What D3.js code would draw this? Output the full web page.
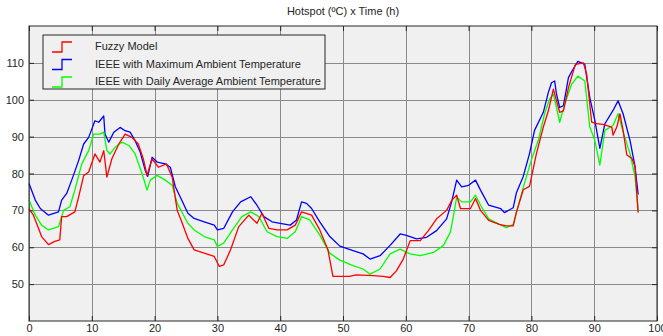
<!DOCTYPE html>
<html lang="en">
<head>
    <meta charset="UTF-8">
    <script src="https://d3js.org/d3.v7.min.js"></script>
    <title>Hotspot</title>
    <style>
        body { margin: 0; background: #fff; }
        text { font-family: "Liberation Sans", Arial, sans-serif; fill: #262626; }
    </style>
</head>
<body>
    <div id="canvas"></div>
    <script>
        // [time (h), hotspot (ºC)]
        const fuzzy = [[0,70.5],[0.7,68.7],[1.5,65.2],[2,62.9],[3.1,60.7],[4.1,61.6],[4.9,62],[5.2,68.3],[6,68.3],[7.3,69.6],[7.9,73.6],[8.7,79.4],[9.5,80.4],[10.5,85.3],[11.3,83.1],[11.9,86.2],[12.4,79],[13.2,84],[14.3,88],[15.3,90.7],[16.4,89.8],[17.4,88],[18.2,84],[18.8,79.5],[19.6,84],[20.6,81.7],[21.9,82.6],[22.8,79],[23.6,70],[24.3,67],[25.3,62.4],[26.3,59.3],[27.9,58.4],[29.5,57.5],[30.3,54.8],[31,55.2],[32.1,59.3],[33.4,65.6],[35,68.7],[36.3,66.5],[37.1,69.2],[38.2,65.1],[39.5,64.7],[41.1,64.7],[42.4,66],[43.4,69.6],[45,68.7],[46.3,64.7],[47.6,59.3],[48.4,52.1],[51,52.1],[52.1,52.5],[54.8,52.3],[56.4,52.1],[57.5,51.8],[58.5,53.6],[59.6,56.8],[60.7,61.8],[62.3,61.8],[63.6,64.5],[64.9,67.7],[66.5,70],[67.3,72.7],[68.1,74.1],[68.7,70.5],[70.3,70.5],[71.1,73.2],[71.9,70],[73.2,67.3],[74.9,66.2],[76,65.8],[77.1,65.8],[77.6,69.4],[78.7,75.6],[79.7,76.5],[80.8,85.4],[81.9,92.6],[82.7,97],[83.5,102.9],[84,99.7],[84.5,96.6],[85.1,97],[85.9,103.3],[87,109.6],[88.3,110],[88.8,106.9],[89.6,93.9],[90.4,93.5],[91.4,93.3],[92.8,92.6],[93,90.4],[93.6,92.6],[94.1,96.2],[94.6,91.7],[95.2,85],[96,84.1],[96.5,81.9],[97,69.4]]
        const ieeeMax = [[0,77.3],[1,72.8],[1.8,70.5],[3.1,68.7],[4.7,69.6],[5.2,72.8],[6,74.6],[6.8,78.2],[7.9,83.5],[8.7,88],[9.5,89.8],[10.5,94.3],[11.1,93.9],[11.9,95.6],[12.1,90.7],[12.7,88.5],[13.5,91.2],[14.5,92.5],[15.3,91.6],[16.1,91.2],[16.9,88.9],[17.7,85.8],[18.5,80.9],[18.9,79.2],[19.6,84.4],[20.4,83.1],[21.7,82.6],[22.5,81.7],[23.3,76.4],[24.2,73.2],[25.3,69.2],[26.3,67.8],[27.9,66.9],[29.5,66],[30,64.7],[31,65.1],[32.4,69.6],[33.7,72.3],[35.3,73.7],[36.3,71.4],[37.4,68.3],[38.7,66.9],[40,66.5],[41.6,66],[42.6,67.4],[43.4,72.3],[44.2,71.9],[45,70.5],[46.3,66.9],[47.9,62.9],[49.5,60.3],[51.6,59.1],[53.2,58.2],[54.3,56.8],[55.9,57.7],[57.5,60.5],[59.1,63.6],[60.1,63.2],[61.7,62.3],[63.3,62.7],[64.9,64.5],[66.5,67.7],[67.3,72.3],[68.1,78.2],[68.9,76.4],[70,76.8],[71.1,78.2],[71.9,75.5],[73.2,71.4],[75.1,70.5],[75.7,69.4],[77.1,70.7],[77.6,74.7],[78.7,79.2],[79.7,85.4],[80.5,91.7],[81.9,96.6],[82.7,102],[83.2,104.6],[83.7,105.1],[84,101.5],[84.5,97.9],[85.1,98.4],[85.9,106],[86.6,108.2],[87.4,110.4],[88.5,109.6],[89.3,100.6],[90.1,94.4],[90.9,86.8],[91.7,93.5],[93,97.1],[93.8,99.7],[94.6,96.2],[95.7,89],[96.5,81.9],[97,74.3]]
        const ieeeAvg = [[0,72.8],[1,68.7],[2,66],[3.1,64.7],[4.7,65.6],[5.5,70],[6.5,71],[7.3,75.5],[8.4,82.6],[9.5,86.2],[10.3,90.7],[11.3,90.7],[11.9,91.2],[12.4,86.2],[12.9,85.3],[13.7,87.1],[14.8,88.5],[15.9,87.6],[16.9,85.3],[18,80],[18.8,75.5],[19.3,78.2],[20.4,79.5],[21.7,78.2],[22.8,76.8],[23.6,71.9],[24.3,69.7],[25.3,66.5],[26.3,64.7],[27.9,62.9],[29.5,62],[30,60.2],[31,61.1],[32.4,64.7],[33.9,68.3],[35.3,69.6],[36.6,68.3],[37.9,64.2],[39.5,62.9],[41.1,62.4],[42.4,64.2],[43.4,68.3],[44.7,67.4],[46.3,63.3],[47.9,58.4],[49.5,56.5],[51.6,55],[53.2,54.1],[54.3,52.7],[55.9,54.1],[57.5,58.2],[59.1,59.5],[60.7,58.2],[62.3,57.7],[64.4,58.6],[66,60.5],[67.1,64.1],[67.6,68.6],[68.1,73.6],[68.9,72.3],[70.3,72.3],[71.1,74.1],[71.9,71.4],[73.2,67.7],[74.9,66.2],[76,65.3],[77.1,66.2],[77.9,71.2],[78.9,77.4],[80,83.7],[81.1,89],[82.1,96.2],[82.9,100.2],[83.5,101.5],[84,97.9],[84.5,93.9],[85.3,98.8],[86.4,104.2],[87.4,106.4],[88.5,105.1],[89.3,92.6],[90.1,89],[90.9,82.3],[91.7,91.7],[93,93],[93.8,96.2],[94.6,91.3],[95.7,85.4],[96.5,79.2],[97,69.8]]

        const seriesNames = ["Fuzzy Model", "IEEE with Maximum Ambient Temperature", "IEEE with Daily Average Ambient Temperature"]
        const seriesColors = ["#ff0000", "#0000ff", "#00ff00"]
        const xTicks = [0,10,20,30,40,50,60,70,80,90,100]
        const yTicks = [50,60,70,80,90,100,110]

        const width = 663, height = 336
        const margin = {top:26, right:6, bottom:15, left:29}
        const gWidth = width - margin.left - margin.right
        const gHeight = height - margin.top - margin.bottom

        const svg = d3.select("#canvas").append("svg").attr("width", width).attr("height", height)
        const g = svg.append("g").attr("transform", `translate(${margin.left},${margin.top})`)

        const x = d3.scaleLinear().domain([0,100]).range([0,gWidth])
        const y = d3.scaleLinear().domain([40,120]).range([gHeight,0])

        g.append("rect").attr("width", gWidth).attr("height", gHeight).attr("fill", "#f0f0f0")

        // grid
        g.append("g").selectAll("line").data(xTicks).enter().append("line")
            .attr("x1", d => Math.round(x(d)) + 0.5).attr("x2", d => Math.round(x(d)) + 0.5)
            .attr("y1", 0).attr("y2", gHeight)
            .attr("stroke", "#8a8a8a").attr("stroke-width", 1)
        g.append("g").selectAll("line").data(yTicks).enter().append("line")
            .attr("y1", d => Math.round(y(d)) + 0.5).attr("y2", d => Math.round(y(d)) + 0.5)
            .attr("x1", 0).attr("x2", gWidth)
            .attr("stroke", "#8a8a8a").attr("stroke-width", 1)

        // axes (ticks inward)
        const xAxis = d3.axisBottom(x).tickValues(xTicks).tickSize(-5).tickPadding(3)
        const yAxis = d3.axisLeft(y).tickValues(yTicks).tickSize(-5).tickPadding(5)
        g.append("g").attr("transform", `translate(0,${gHeight})`).call(xAxis)
        g.append("g").call(yAxis)
        g.append("g").call(d3.axisTop(x).tickValues(xTicks).tickSize(-5).tickFormat(""))
        g.append("g").attr("transform", `translate(${gWidth},0)`).call(d3.axisRight(y).tickValues(yTicks).tickSize(-5).tickFormat(""))
        g.selectAll(".domain").remove()
        g.selectAll(".tick line").attr("stroke", "#262626")
        g.selectAll(".tick text").style("font-size", "11px").attr("fill", "#262626")

        // curves
        const line = d3.line().x(d => x(d[0])).y(d => y(d[1]))
        const drawOrder = [[ieeeMax,1],[ieeeAvg,2],[fuzzy,0]]
        drawOrder.forEach(([data,i]) => {
            g.append("path").datum(data)
                .attr("fill", "none").attr("stroke", seriesColors[i]).attr("stroke-width", 1.3)
                .attr("stroke-linejoin", "round")
                .attr("d", line)
        })

        g.append("rect").attr("width", gWidth).attr("height", gHeight)
            .attr("fill", "none").attr("stroke", "#262626").attr("stroke-width", 1)

        // title
        svg.append("text").attr("x", margin.left + gWidth/2).attr("y", 15)
            .attr("text-anchor", "middle").style("font-size", "11px")
            .text("Hotspot (ºC) x Time (h)")

        // legend
        const lg = svg.append("g").attr("transform", "translate(43,35)")
        lg.append("rect").attr("width", 282).attr("height", 54)
            .attr("fill", "#f0f0f0").attr("stroke", "#262626").attr("stroke-width", 1)
        seriesNames.forEach((name, i) => {
            const cy = 11 + i * 17.5
            lg.append("path")
                .attr("d", `M9,${cy+6}H19V${cy-4}H29`)
                .attr("fill", "none").attr("stroke", seriesColors[i]).attr("stroke-width", 1.3)
            lg.append("text").attr("x", 52).attr("y", cy + 4)
                .style("font-size", "11px").text(name)
        })
    </script>
</body>
</html>
